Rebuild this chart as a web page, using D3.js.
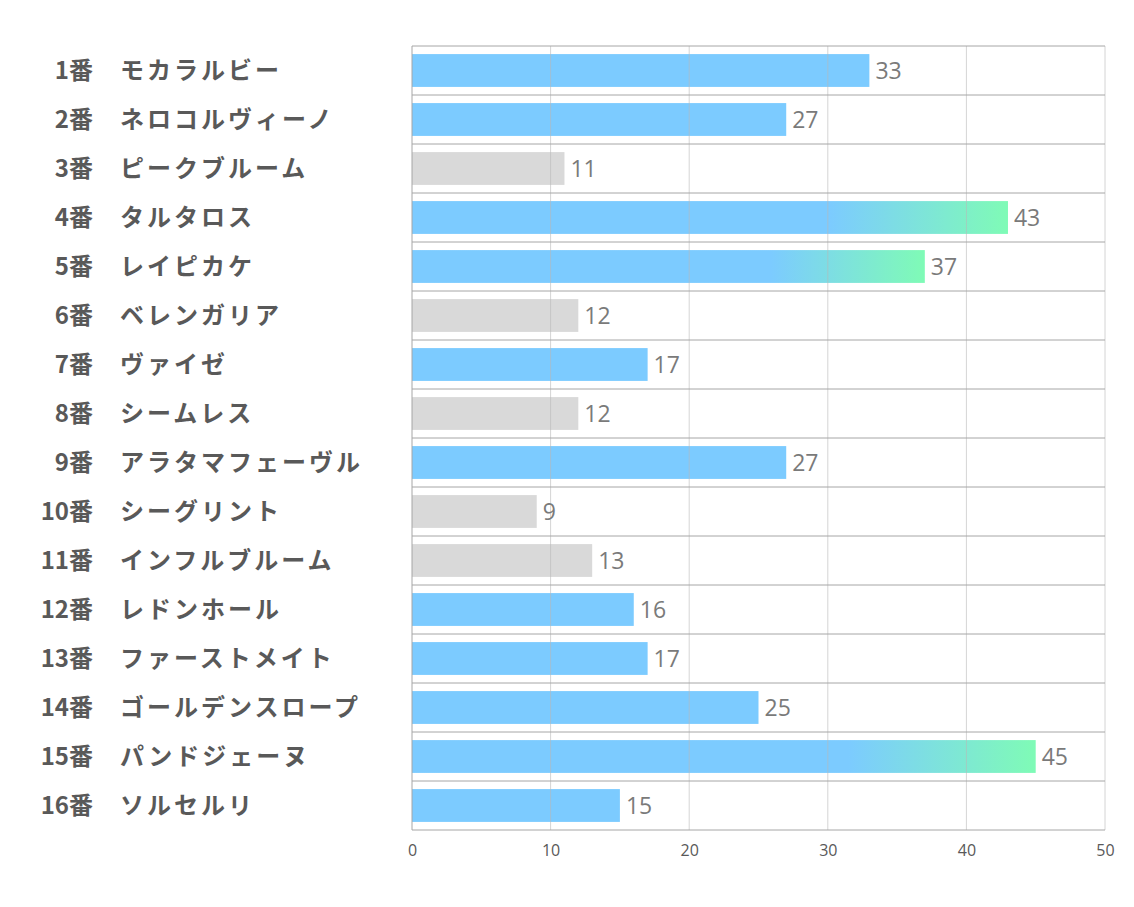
<!DOCTYPE html>
<html>
<head>
<meta charset="utf-8">
<script src="https://cdn.jsdelivr.net/npm/d3@7"></script>
<style>
  body { margin: 0; background: #fff; }
  text { font-family: "Noto Sans CJK JP", "Noto Sans", sans-serif; }
</style>
</head>
<body>
<div id="container"></div>
<script>
// data
const numbers = ["1番","2番","3番","4番","5番","6番","7番","8番","9番","10番","11番","12番","13番","14番","15番","16番"];
const names = ["モカラルビー","ネロコルヴィーノ","ピークブルーム","タルタロス","レイピカケ","ベレンガリア","ヴァイゼ","シームレス","アラタマフェーヴル","シーグリント","インフルブルーム","レドンホール","ファーストメイト","ゴールデンスロープ","パンドジェーヌ","ソルセルリ"];
const values = [33, 27, 11, 43, 37, 12, 17, 12, 27, 9, 13, 16, 17, 25, 45, 15];
// 0 = grey, 1 = blue, 2 = gradient
const kinds = [1, 1, 0, 2, 2, 0, 1, 0, 1, 0, 0, 1, 1, 1, 2, 1];
const xTicks = [0, 10, 20, 30, 40, 50];

const width = 1134, height = 907;
const plotLeft = 412, plotRight = 1105, plotTop = 46, plotBottom = 830;

const svg = d3.select("#container").append("svg")
  .attr("width", width)
  .attr("height", height);

const defs = svg.append("defs");
const grad = defs.append("linearGradient")
  .attr("id", "hl")
  .attr("x1", "0").attr("x2", "1").attr("y1", "0").attr("y2", "0");
grad.append("stop").attr("offset", "0.7").attr("stop-color", "#7ccbff");
grad.append("stop").attr("offset", "1").attr("stop-color", "#7ffbb6");

const x = d3.scaleLinear().domain([0, 50]).range([plotLeft, plotRight]);
const y = d3.scaleBand().domain(d3.range(values.length)).range([plotTop, plotBottom]).paddingInner(0.33).paddingOuter(0.165);
const rowY = d3.scaleBand().domain(d3.range(values.length)).range([plotTop, plotBottom]);

// bars
svg.append("g").selectAll("rect")
  .data(values)
  .enter()
  .append("rect")
  .attr("x", x(0))
  .attr("y", (d, i) => y(i))
  .attr("width", d => x(d) - x(0))
  .attr("height", y.bandwidth())
  .attr("fill", (d, i) => kinds[i] === 0 ? "#d9d9d9" : kinds[i] === 1 ? "#7ccbff" : "url(#hl)");

// vertical gridlines (drawn over bars, faint)
svg.append("g").selectAll("line")
  .data(xTicks)
  .enter()
  .append("line")
  .attr("x1", d => x(d)).attr("x2", d => x(d))
  .attr("y1", plotTop).attr("y2", plotBottom)
  .attr("stroke", "#b8b8b8")
  .attr("stroke-opacity", d => d === 0 ? 0 : 0.6);

// row separators
svg.append("g").selectAll("line")
  .data(d3.range(values.length + 1))
  .enter()
  .append("line")
  .attr("x1", plotLeft).attr("x2", plotRight)
  .attr("y1", i => i < values.length ? rowY(i) : plotBottom)
  .attr("y2", i => i < values.length ? rowY(i) : plotBottom)
  .attr("stroke", "#a6a6a6");

svg.append("line")
  .attr("x1", plotLeft).attr("x2", plotLeft)
  .attr("y1", plotTop).attr("y2", plotBottom)
  .attr("stroke", "#a6a6a6");

// x axis
const xAxis = d3.axisBottom(x).tickValues(xTicks).tickSize(0).tickPadding(15);
const ax = svg.append("g")
  .attr("transform", "translate(0," + plotBottom + ")")
  .call(xAxis);
ax.select(".domain").remove();
ax.selectAll("text")
  .style("font-family", "'Open Sans', 'Noto Sans', sans-serif")
  .style("font-size", "16px")
  .attr("fill", "#595959");

// value labels
svg.append("g").selectAll("text")
  .data(values)
  .enter()
  .append("text")
  .attr("x", d => x(d) + 6)
  .attr("y", (d, i) => y(i) + y.bandwidth() / 2)
  .attr("dy", "0.38em")
  .style("font-family", "'Open Sans', 'Noto Sans', sans-serif")
  .style("font-size", "23px")
  .attr("fill", "#7a7a7a")
  .text(d => d);

// category labels
const labels = svg.append("g");
labels.selectAll("text.num")
  .data(numbers)
  .enter()
  .append("text")
  .attr("class", "num")
  .attr("x", 93)
  .attr("y", (d, i) => y(i) + y.bandwidth() / 2)
  .attr("dy", "0.36em")
  .attr("text-anchor", "end")
  .style("font-size", "24px")
  .style("font-weight", "bold")
  .attr("fill", "#595959")
  .text(d => d);

labels.selectAll("text.name")
  .data(names)
  .enter()
  .append("text")
  .attr("class", "name")
  .attr("x", 120)
  .attr("y", (d, i) => y(i) + y.bandwidth() / 2)
  .attr("dy", "0.36em")
  .style("font-size", "24px")
  .style("font-weight", "bold")
  .style("letter-spacing", "3px")
  .attr("fill", "#595959")
  .text(d => d);
</script>
</body>
</html>
